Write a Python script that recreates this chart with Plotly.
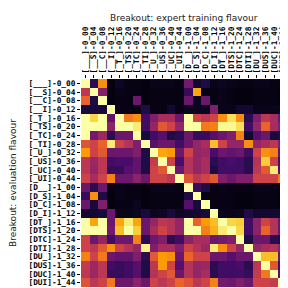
import plotly.graph_objects as go

labels = ["[___]-0_00", "[__S]-0_04", "[__C]-0_08", "[__I]-0_12",
          "[_T_]-0_16", "[_TS]-0_20", "[_TC]-0_24", "[_TI]-0_28",
          "[_U_]-0_32", "[_US]-0_36", "[_UC]-0_40", "[_UI]-0_44",
          "[D__]-1_00", "[D_S]-1_04", "[D_C]-1_08", "[D_I]-1_12",
          "[DT_]-1_16", "[DTS]-1_20", "[DTC]-1_24", "[DTI]-1_28",
          "[DU_]-1_32", "[DUS]-1_36", "[DUC]-1_40", "[DUI]-1_44"]

# rows = evaluation flavour, columns = expert training flavour
row_00 = [1.00, 0.15, 0.75, 0.02, 0.06, 0.03, 0.03, 0.02, 0.04, 0.04, 0.04, 0.03, 0.32, 0.08, 0.12, 0.04, 0.05, 0.04, 0.03, 0.03, 0.04, 0.04, 0.03, 0.03]
row_01 = [0.50, 1.00, 0.36, 0.02, 0.04, 0.03, 0.03, 0.02, 0.03, 0.03, 0.03, 0.03, 0.18, 0.80, 0.03, 0.03, 0.04, 0.03, 0.02, 0.02, 0.03, 0.03, 0.03, 0.02]
row_02 = [0.65, 0.12, 1.00, 0.02, 0.03, 0.03, 0.30, 0.02, 0.03, 0.03, 0.03, 0.03, 0.30, 0.05, 0.30, 0.03, 0.04, 0.03, 0.02, 0.02, 0.03, 0.03, 0.03, 0.02]
row_03 = [0.10, 0.10, 0.10, 1.00, 0.03, 0.03, 0.03, 0.12, 0.03, 0.03, 0.08, 0.03, 0.05, 0.05, 0.05, 0.35, 0.04, 0.04, 0.08, 0.08, 0.04, 0.04, 0.04, 0.04]
row_04 = [1.00, 0.90, 1.00, 0.28, 1.00, 0.70, 0.75, 0.20, 0.35, 0.45, 0.45, 0.30, 1.00, 0.55, 0.50, 0.55, 0.75, 0.92, 0.75, 0.15, 0.35, 0.50, 0.45, 0.30]
row_05 = [1.00, 1.00, 1.00, 0.38, 1.00, 1.00, 0.95, 0.20, 0.40, 0.62, 0.55, 0.40, 1.00, 1.00, 0.70, 0.72, 0.98, 0.98, 0.92, 0.20, 0.40, 0.65, 0.45, 0.35]
row_06 = [1.00, 0.32, 0.42, 0.15, 0.30, 0.30, 1.00, 0.10, 0.20, 0.25, 0.12, 0.15, 0.30, 0.18, 0.18, 0.25, 0.30, 0.35, 0.72, 0.08, 0.25, 0.30, 0.10, 0.12]
row_07 = [0.60, 0.55, 0.65, 0.95, 0.55, 0.48, 0.35, 1.00, 0.25, 0.30, 0.30, 0.20, 0.30, 0.40, 0.45, 0.85, 0.55, 0.40, 0.40, 0.75, 0.40, 0.45, 0.50, 0.35]
row_08 = [0.78, 0.55, 0.62, 0.30, 0.30, 0.30, 0.35, 0.12, 1.00, 0.80, 0.78, 0.30, 0.55, 0.40, 0.42, 0.22, 0.30, 0.28, 0.30, 0.20, 0.55, 0.75, 0.72, 0.28]
row_09 = [0.50, 0.42, 0.50, 0.20, 0.22, 0.22, 0.28, 0.12, 0.52, 1.00, 0.55, 0.22, 0.48, 0.40, 0.45, 0.15, 0.20, 0.22, 0.20, 0.15, 0.48, 0.88, 0.55, 0.22]
row_10 = [0.50, 0.40, 0.50, 0.18, 0.18, 0.25, 0.28, 0.12, 0.55, 0.62, 1.00, 0.30, 0.48, 0.40, 0.45, 0.12, 0.20, 0.20, 0.20, 0.15, 0.50, 0.62, 0.95, 0.25]
row_11 = [0.55, 0.45, 0.55, 0.72, 0.30, 0.30, 0.38, 0.30, 0.55, 0.55, 0.50, 1.00, 0.60, 0.50, 0.55, 0.62, 0.35, 0.30, 0.35, 0.35, 0.55, 0.55, 0.55, 0.70]
row_12 = [0.30, 0.15, 0.30, 0.03, 0.04, 0.03, 0.03, 0.02, 0.04, 0.04, 0.04, 0.03, 1.00, 0.18, 0.12, 0.03, 0.04, 0.03, 0.03, 0.03, 0.04, 0.04, 0.03, 0.03]
row_13 = [0.18, 0.75, 0.12, 0.02, 0.04, 0.03, 0.03, 0.02, 0.03, 0.03, 0.03, 0.03, 0.12, 1.00, 0.03, 0.03, 0.03, 0.03, 0.02, 0.02, 0.03, 0.03, 0.03, 0.02]
row_14 = [0.30, 0.10, 0.35, 0.02, 0.03, 0.03, 0.05, 0.02, 0.03, 0.03, 0.03, 0.03, 0.25, 0.10, 1.00, 0.03, 0.03, 0.03, 0.02, 0.02, 0.03, 0.03, 0.03, 0.02]
row_15 = [0.08, 0.08, 0.10, 0.30, 0.04, 0.04, 0.05, 0.10, 0.05, 0.06, 0.10, 0.06, 0.08, 0.08, 0.10, 1.00, 0.04, 0.04, 0.05, 0.12, 0.08, 0.08, 0.08, 0.08]
row_16 = [1.00, 0.80, 1.00, 0.30, 0.80, 0.95, 0.80, 0.30, 0.40, 0.50, 0.48, 0.40, 1.00, 0.65, 0.78, 0.85, 1.00, 0.90, 0.88, 0.20, 0.38, 0.55, 0.48, 0.30]
row_17 = [1.00, 1.00, 1.00, 0.32, 0.85, 1.00, 0.88, 0.30, 0.45, 0.55, 0.48, 0.40, 1.00, 1.00, 0.72, 0.82, 0.95, 1.00, 0.90, 0.20, 0.38, 0.65, 0.48, 0.30]
row_18 = [0.55, 0.30, 0.40, 0.20, 0.30, 0.30, 0.72, 0.15, 0.30, 0.35, 0.15, 0.20, 0.38, 0.45, 0.45, 0.30, 0.32, 0.35, 1.00, 0.12, 0.30, 0.30, 0.15, 0.12]
row_19 = [0.55, 0.50, 0.62, 0.75, 0.55, 0.48, 0.40, 0.97, 0.35, 0.45, 0.45, 0.35, 0.55, 0.48, 0.42, 0.95, 0.75, 0.55, 0.40, 1.00, 0.40, 0.45, 0.48, 0.38]
row_20 = [0.72, 0.55, 0.70, 0.30, 0.28, 0.28, 0.35, 0.15, 0.62, 0.78, 0.75, 0.30, 0.65, 0.55, 0.55, 0.30, 0.30, 0.25, 0.30, 0.30, 1.00, 0.85, 0.85, 0.30]
row_21 = [0.52, 0.42, 0.50, 0.20, 0.18, 0.20, 0.25, 0.12, 0.50, 0.78, 0.55, 0.25, 0.48, 0.40, 0.42, 0.15, 0.20, 0.20, 0.22, 0.15, 0.50, 1.00, 0.62, 0.22]
row_22 = [0.50, 0.42, 0.50, 0.18, 0.18, 0.20, 0.25, 0.12, 0.48, 0.55, 0.62, 0.30, 0.48, 0.40, 0.45, 0.15, 0.20, 0.20, 0.20, 0.18, 0.52, 0.70, 1.00, 0.25]
row_23 = [0.60, 0.50, 0.55, 0.70, 0.30, 0.30, 0.38, 0.30, 0.55, 0.50, 0.55, 0.65, 0.60, 0.50, 0.55, 0.72, 0.32, 0.30, 0.35, 0.30, 0.55, 0.55, 0.52, 1.00]

z = [row_00, row_01, row_02, row_03, row_04, row_05, row_06, row_07,
     row_08, row_09, row_10, row_11, row_12, row_13, row_14, row_15,
     row_16, row_17, row_18, row_19, row_20, row_21, row_22, row_23]

tick_font = dict(family="DejaVu Sans Mono", size=7.8, color="black", weight=700)

fig = go.Figure(go.Heatmap(
    z=z, x=labels, y=labels, colorscale="Inferno", zmin=0, zmax=1,
    showscale=False, xgap=0, ygap=0,
))

fig.update_layout(
    width=288, height=288,
    margin=dict(l=73, r=9, t=71, b=9),
    paper_bgcolor="white", plot_bgcolor="white",
    xaxis=dict(side="top", tickangle=-90, tickfont=tick_font, ticks="outside",
               tickmode="array", tickvals=labels, ticktext=labels,
               ticklen=3, tickcolor="black", tickwidth=1, showgrid=False,
               zeroline=False),
    yaxis=dict(autorange="reversed", tickfont=tick_font, ticks="outside",
               tickmode="array", tickvals=labels, ticktext=labels,
               ticklen=3, tickcolor="black", tickwidth=1, showgrid=False,
               zeroline=False),
    annotations=[
        dict(text="Breakout: expert training flavour", xref="paper", yref="paper",
             x=0.5, y=1, yshift=61, xanchor="center", yanchor="middle",
             showarrow=False, font=dict(family="DejaVu Sans", size=9, color="#222")),
        dict(text="Breakout: evaluation flavour", xref="paper", yref="paper",
             x=0, y=0.5, xshift=-68, textangle=-90, xanchor="center", yanchor="middle",
             showarrow=False, font=dict(family="DejaVu Sans", size=9, color="#222")),
    ],
)

fig.write_html("out.html")
